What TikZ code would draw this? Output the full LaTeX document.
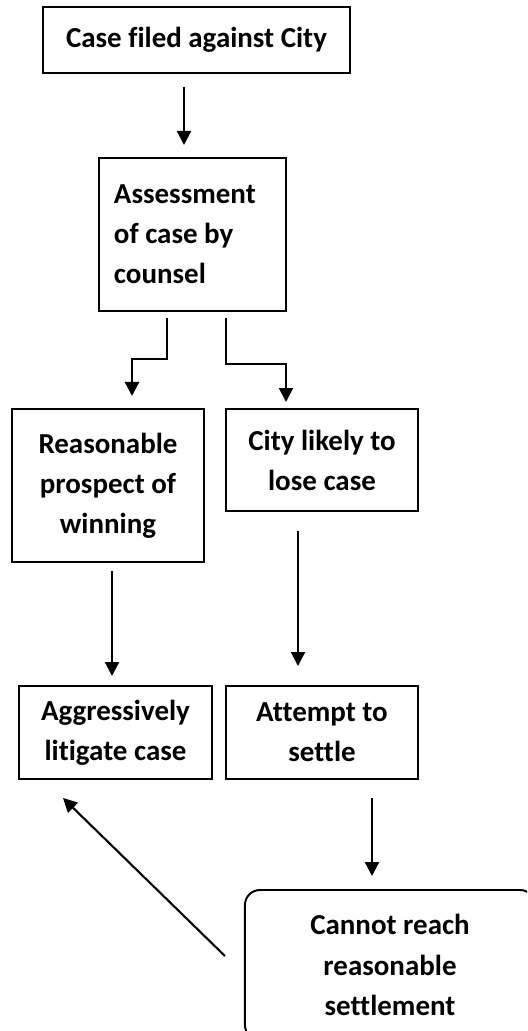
\documentclass[tikz,border=0pt]{standalone}
\usepackage{fontspec}
\setmainfont[Ligatures=NoCommon]{Carlito}
\usetikzlibrary{arrows.meta,calc}

\begin{document}
\begin{tikzpicture}[x=0.025cm, y=-0.025cm,
  font=\bfseries\fontsize{20.6}{28.5}\selectfont,
  box/.style={draw=black, line width=1.4pt, align=center, inner sep=0pt},
  roundbox/.style={box, rounded corners=0.375cm},
  flow/.style={-{Triangle[length=3.5mm, width=3.5mm]}, line width=1.5pt, draw=black},
]
\clip (0,0) rectangle (527,1031);

% ============ TOP: filing and assessment ============
\node[box, minimum width=7.675cm, minimum height=1.65cm] (filed) at (196.5, 40)
  {Case filed against City};
\node[box, minimum width=4.675cm, minimum height=3.825cm, text width=3.925cm,
      align=flush left] (assess) at (192.5, 234.5)
  {Assessment\\of case by\\counsel};

% ============ MIDDLE: two outcomes of the assessment ============
\node[box, minimum width=4.8cm, minimum height=3.825cm] (winning) at (108, 485.5)
  {Reasonable\\prospect of\\winning};
\node[box, minimum width=4.8cm, minimum height=2.55cm] (losing) at (322, 460)
  {City likely to\\lose case};

% ============ BOTTOM: actions ============
\node[box, minimum width=4.825cm, minimum height=2.325cm] (litigate) at (115.5, 732.5)
  {Aggressively\\litigate case};
\node[box, minimum width=4.8cm, minimum height=2.325cm] (settle) at (322, 732.5)
  {Attempt to\\settle};
\node[roundbox, minimum width=7.25cm, minimum height=3.75cm] (nosettle) at (390, 965)
  {Cannot reach\\reasonable\\settlement};

% ============ CONNECTORS ============
\draw[flow] ($(filed.south)+(-12.5,13)$) -- ($(assess.north)+(-8.5,-12)$);
\draw[flow] ($(assess.south)+(-25.5,6)$) -- ++(0,41) -| ($(winning.north)+(24,-12)$);
\draw[flow] ($(assess.south)+(33.5,6)$) -- ++(0,46) -| ($(losing.north)+(-36,-6)$);
\draw[flow] ($(winning.south)+(4,8)$) -- ($(litigate.north)+(-3.5,-9)$);
\draw[flow] ($(losing.south)+(-24,19)$) -- ($(settle.north)+(-24,-19)$);
\draw[flow] ($(settle.south)+(50,18)$) -- ($(nosettle.north)+(-18,-13)$);
% back to litigation when no settlement is reached
\draw[flow] ($(nosettle.west)+(-19,-9)$) -- ($(litigate.south)+(-52.5,18)$);

\end{tikzpicture}
\end{document}
